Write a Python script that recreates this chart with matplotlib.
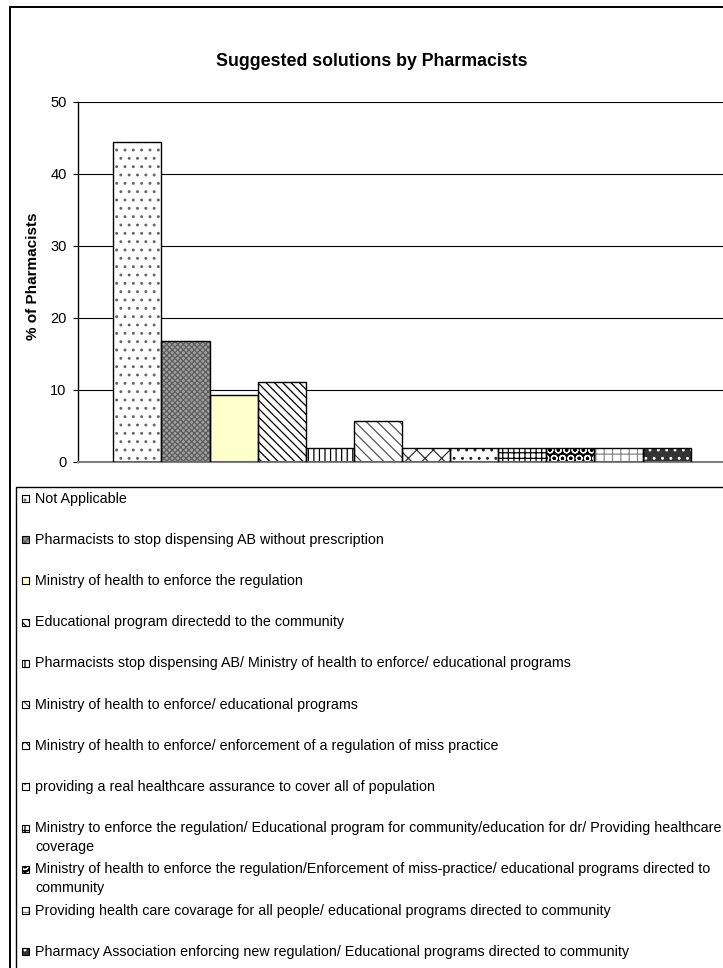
import numpy as np
import matplotlib
matplotlib.use("Agg")
import matplotlib.pyplot as plt
from matplotlib.patches import Rectangle

plt.rcParams['font.family'] = ['Liberation Sans', 'DejaVu Sans']
plt.rcParams['hatch.linewidth'] = 0.9

# ---- data -------------------------------------------------------------
title = "Suggested solutions by Pharmacists"
y_label = "% of Pharmacists"
solutions = [
    "Not Applicable",
    "Pharmacists to stop dispensing AB without prescription",
    "Ministry of health to enforce the regulation",
    "Educational program directedd to the community",
    "Pharmacists stop dispensing AB/ Ministry of health to enforce/ educational programs",
    "Ministry of health to enforce/ educational programs",
    "Ministry of health to enforce/ enforcement of a regulation of miss practice",
    "providing a real healthcare assurance to cover all of population",
    "Ministry to enforce the regulation/ Educational program for community/education for dr/ Providing healthcare\ncoverage",
    "Ministry of health to enforce the regulation/Enforcement of miss-practice/ educational programs directed to\ncommunity",
    "Providing health care covarage for all people/ educational programs directed to community",
    "Pharmacy Association enforcing new regulation/ Educational programs directed to community",
]
percent = [44.4, 16.7, 9.3, 11.1, 1.9, 5.6, 1.9, 1.9, 1.9, 1.9, 1.9, 1.9]
y_ticks = [0, 10, 20, 30, 40, 50]

# fill for each series: (face colour, hatch, hatch colour)
styles = [
    ('white',   '..',       '#666666'),
    ('#a0a0a0', 'xxxxxx',   '#5e5e5e'),
    ('#ffffcc', '',         None),
    ('white',   '\\\\\\\\', 'black'),
    ('white',   '|||',      'black'),
    ('white',   '\\\\\\',   '#555555'),
    ('white',   'xx',       '#333333'),
    ('white',   '..',       '#222222'),
    ('white',   '+++',      'black'),
    ('black',   'OO',       'white'),
    ('white',   '++',       '#888888'),
    ('#333333', '..',       'white'),
]

# ---- figure in pixel units --------------------------------------------
W, H = 723, 968
fig = plt.figure(figsize=(W / 100, H / 100), dpi=100)
fig.patch.set_facecolor('white')


def fx(px):
    return px / W


def fy(py):
    return 1 - py / H


# outer chart frame (runs off the right and bottom edges)
fig.add_artist(Rectangle((fx(10), fy(1200)), 2, (1200 - 6.5) / H,
                         transform=fig.transFigure, fill=False,
                         edgecolor='black', linewidth=1.4))

# ---- bar chart --------------------------------------------------------
ax = fig.add_axes([fx(77.7), fy(461.7), (726.3 - 77.7) / W, 360 / H])
x = np.arange(len(percent))
for i, (val, (face, hatch, hcol)) in enumerate(zip(percent, styles)):
    ax.bar(x[i], val, width=1.0, color=face,
           edgecolor=hcol if hcol else face, hatch=hatch or None,
           linewidth=0, zorder=2)
    ax.bar(x[i], val, width=1.0, fill=False, edgecolor='black',
           linewidth=1.0, zorder=3)

ax.set_xlim(-0.5 - 0.74, len(percent) - 0.5 + 0.74)
ax.set_ylim(0, 50)
ax.set_yticks(y_ticks)
ax.set_xticks([])
ax.yaxis.grid(True, color='black', linewidth=0.8)
ax.set_axisbelow(True)
for side in ('top', 'right'):
    ax.spines[side].set_visible(False)
ax.spines['left'].set_color('black')
ax.spines['left'].set_linewidth(1.0)
ax.spines['bottom'].set_color('#808080')
ax.spines['bottom'].set_linewidth(1.5)
ax.tick_params(axis='y', direction='out', length=3.6, width=0.8,
               pad=4.3, labelsize=10.5)

fig.text(fx(33), fy(276), y_label, rotation=90, ha='center', va='center',
         fontsize=11, fontweight='bold')
fig.text(fx(372), fy(61), title, ha='center', va='center',
         fontsize=12.8, fontweight='bold')

# ---- legend box -------------------------------------------------------
fig.add_artist(Rectangle((fx(16), fy(1200)), 2, (1200 - 486.5) / H,
                         transform=fig.transFigure, fill=False,
                         edgecolor='black', linewidth=1.0))

row0, row_step, line_step = 498.5, 41.2, 18.5
for i, (label, (face, hatch, hcol)) in enumerate(zip(solutions, styles)):
    yc = row0 + i * row_step
    sw = Rectangle((fx(22), fy(yc + 3.5)), 7 / W, 7 / H,
                   transform=fig.transFigure, facecolor=face,
                   edgecolor=hcol if hcol else face, hatch=hatch or None,
                   linewidth=0)
    fig.add_artist(sw)
    fig.add_artist(Rectangle((fx(22), fy(yc + 3.5)), 7 / W, 7 / H,
                             transform=fig.transFigure, fill=False,
                             edgecolor='black', linewidth=0.8))
    for k, line in enumerate(label.split('\n')):
        fig.text(fx(35), fy(yc + k * line_step), line, ha='left',
                 va='center', fontsize=10.3)

fig.savefig('out.png', dpi=100)
